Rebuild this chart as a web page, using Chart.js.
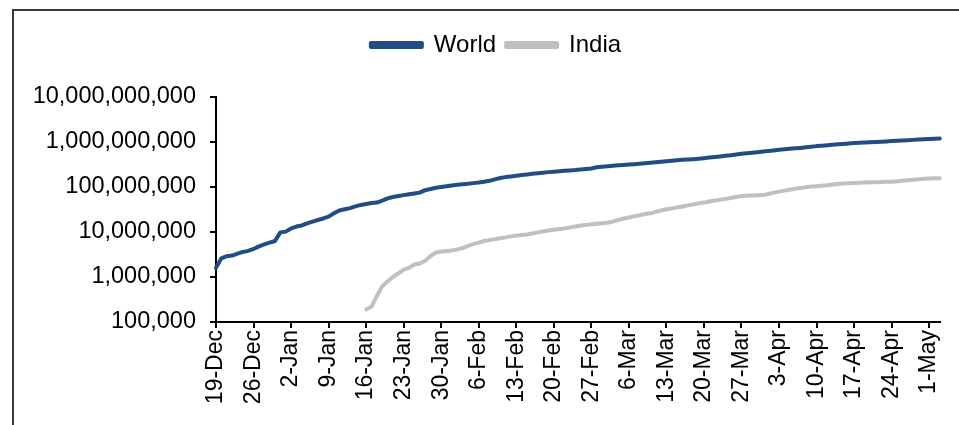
<!DOCTYPE html>
<html>
<head>
<meta charset="utf-8">
<script src="https://cdn.jsdelivr.net/npm/chart.js@4"></script>
<style>
  html, body { margin: 0; padding: 0; background: #fff; overflow: hidden; }
  #wrap { position: relative; width: 959px; height: 425px; }
</style>
</head>
<body>
<div id="wrap"><canvas id="myChart"></canvas></div>
<script>
// daily categories start here (19-Dec-2020), one per day
const startDate = new Date(2020, 11, 19);
const dayCount = 136;
const monthNames = ['Jan', 'Feb', 'Mar', 'Apr', 'May', 'Jun', 'Jul', 'Aug', 'Sep', 'Oct', 'Nov', 'Dec'];

// cumulative doses, millions
const worldMillions = [
  1.6, 2.6, 2.9, 3.0, 3.3, 3.6, 3.8, 4.2, 4.8, 5.3,
  5.8, 6.3, 9.8, 10.2, 12.0, 13.2, 14.0, 15.5, 17.0, 18.5,
  20, 22, 26, 30, 32, 34, 37, 40, 42, 44,
  45, 50, 56, 60, 63, 66, 69, 72, 75, 85,
  90, 96, 100, 104, 108, 112, 115, 118, 122, 126,
  131, 137, 148, 158, 166, 172, 178, 184, 190, 196,
  203, 208, 214, 219, 224, 229, 233, 238, 245, 252,
  258, 274, 282, 289, 296, 303, 309, 315, 322, 330,
  338, 346, 355, 364, 372, 382, 392, 401, 409, 416,
  425, 436, 450, 465, 478, 492, 508, 530, 548, 562,
  578, 595, 612, 630, 650, 672, 688, 705, 722, 740,
  760, 785, 810, 828, 848, 868, 888, 908, 928, 945,
  960, 975, 990, 1005, 1018, 1032, 1046, 1062, 1080, 1098,
  1115, 1135, 1152, 1168, 1182, 1195
];

// India starts on 16-Jan (day 28)
const indiaStartDay = 28;
const indiaMillions = [
  0.19, 0.22, 0.38, 0.62, 0.8, 1.0, 1.2, 1.45, 1.6, 1.9,
  2.0, 2.3, 2.9, 3.5, 3.7, 3.8, 3.9, 4.1, 4.4, 4.9,
  5.4, 5.8, 6.3, 6.6, 6.9, 7.3, 7.6, 8.0, 8.3, 8.6,
  8.8, 9.3, 9.8, 10.4, 10.8, 11.2, 11.6, 12.0, 12.6, 13.3,
  14.0, 14.4, 14.8, 15.2, 15.6, 16.1, 17.0, 18.5, 20, 21,
  22.5, 23.5, 25, 26, 28, 30, 32, 33.5, 35, 37,
  39, 41, 43.5, 45, 47.5, 50, 52, 54.5, 57, 60,
  63, 64, 65, 65.5, 66, 70, 75, 79, 83, 87,
  91, 95, 99, 102, 104, 107, 110, 113, 116, 119,
  121, 122.5, 124, 126, 127, 128, 129, 130, 131, 134,
  138, 142, 145, 149, 152, 154, 155.5, 157
];

const yTickValues = [1e5, 1e6, 1e7, 1e8, 1e9, 1e10];
const labelEvery = 7;

// build labels + series
const labels = [];
for (let i = 0; i < dayCount; i++) {
  const d = new Date(startDate.getFullYear(), startDate.getMonth(), startDate.getDate() + i);
  labels.push(d.getDate() + '-' + monthNames[d.getMonth()]);
}
const worldData = worldMillions.map(v => v * 1e6);
const indiaData = labels.map((l, i) => {
  const k = i - indiaStartDay;
  return (k >= 0 && k < indiaMillions.length) ? indiaMillions[k] * 1e6 : null;
});

Chart.defaults.font.family = 'Arial, "Liberation Sans", sans-serif';
Chart.defaults.color = '#000';

// outer frame around the whole chart
const framePlugin = {
  id: 'frame',
  beforeDraw(chart) {
    const c = chart.ctx;
    c.save();
    c.strokeStyle = '#3a3a3a';
    c.lineWidth = 2;
    c.strokeRect(13, 10, 1200, 700);
    c.restore();
  }
};

// push the plot down below the legend, and nudge the legend right
const legendSpacer = {
  id: 'legendSpacer',
  beforeInit(chart) {
    const origFit = chart.legend.fit;
    chart.legend.fit = function fit() {
      origFit.bind(chart.legend)();
      this.height += 30;
    };
  },
  afterLayout(chart) {
    chart.legend.left += 25;
    chart.legend.right += 25;
  }
};

const ctx = document.getElementById('myChart').getContext('2d');
const myChart = new Chart(ctx, {
  type: 'line',
  data: {
    labels: labels,
    datasets: [{
      label: 'World',
      data: worldData,
      borderColor: '#214C84',
      backgroundColor: '#214C84',
      borderWidth: 4,
      pointRadius: 0,
      tension: 0,
      borderCapStyle: 'round',
      borderJoinStyle: 'round'
    }, {
      label: 'India',
      data: indiaData,
      borderColor: '#C0C0C0',
      backgroundColor: '#C0C0C0',
      borderWidth: 4,
      pointRadius: 0,
      tension: 0,
      borderCapStyle: 'round',
      borderJoinStyle: 'round'
    }]
  },
  options: {
    responsive: true,
    maintainAspectRatio: false,
    animation: false,
    layout: {
      padding: { top: 23, right: 17, left: 0, bottom: 0 }
    },
    plugins: {
      legend: {
        display: true,
        position: 'top',
        labels: {
          boxWidth: 51,
          boxHeight: 4,
          padding: 10,
          color: '#000',
          font: { size: 24 }
        }
      },
      tooltip: { enabled: false }
    },
    scales: {
      x: {
        type: 'category',
        offset: false,
        afterFit(scale) { scale.height = 103; },
        grid: {
          display: true,
          drawOnChartArea: false,
          drawTicks: true,
          tickLength: 6,
          color: '#000',
          lineWidth: 2
        },
        border: { display: true, color: '#000', width: 2 },
        ticks: {
          autoSkip: false,
          minRotation: 90,
          maxRotation: 90,
          padding: 2,
          font: { size: 23 },
          color: '#000',
          callback: function(value, index) {
            return index % labelEvery === 0 ? labels[index] : null;
          }
        }
      },
      y: {
        type: 'logarithmic',
        min: 1e5,
        max: 1e10,
        afterFit(scale) { scale.width = 216; },
        afterBuildTicks(scale) {
          scale.ticks = yTickValues.map(v => ({ value: v }));
        },
        grid: {
          display: true,
          drawOnChartArea: false,
          drawTicks: true,
          tickLength: 6,
          color: '#000',
          lineWidth: 2
        },
        border: { display: true, color: '#000', width: 2 },
        ticks: {
          padding: 14,
          font: { size: 23.5 },
          color: '#000',
          callback: function(value) {
            return Number(value).toLocaleString('en-US');
          }
        }
      }
    }
  },
  plugins: [framePlugin, legendSpacer]
});
</script>
</body>
</html>
